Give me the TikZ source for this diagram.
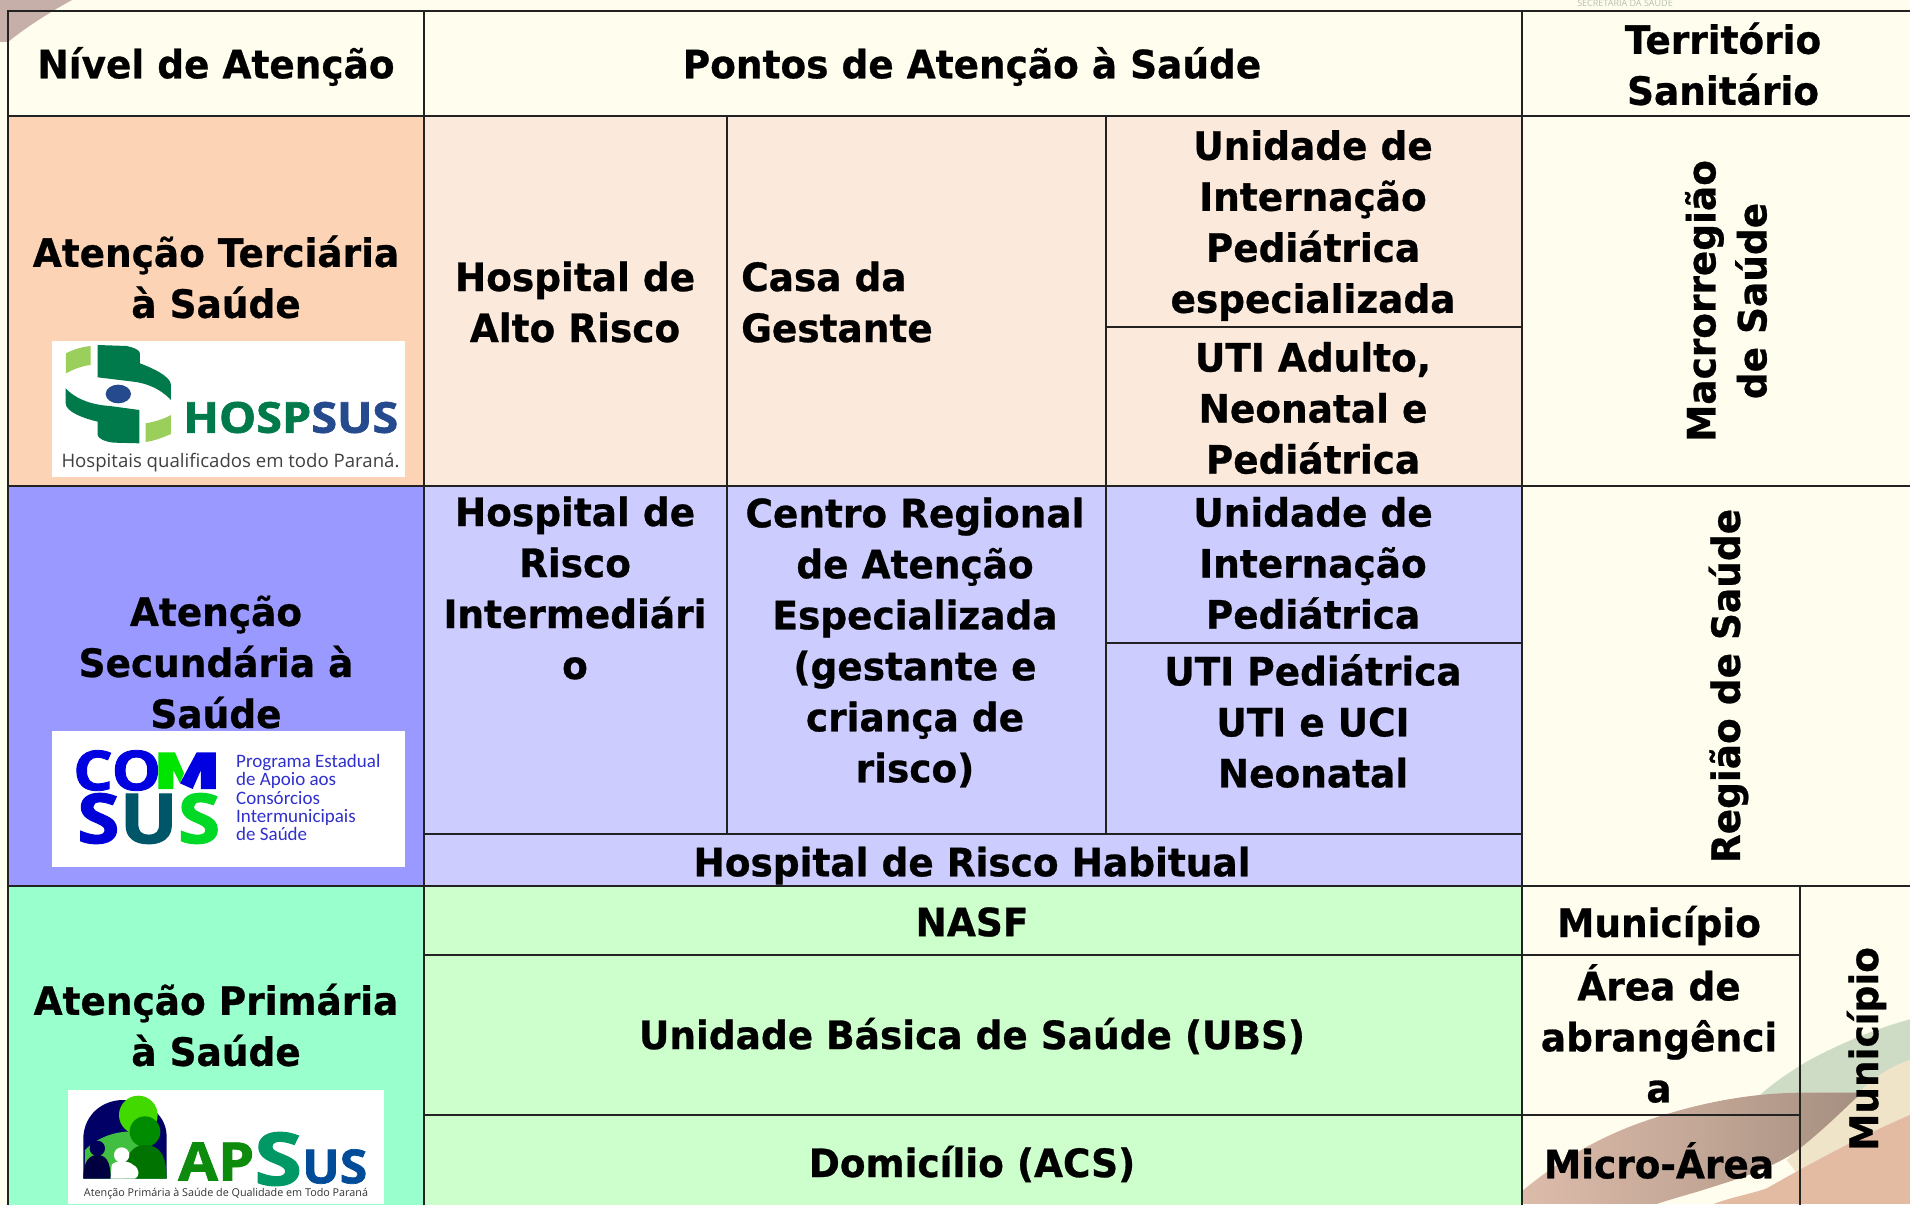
\documentclass[tikz,border=0pt]{standalone}
\usepackage{fontspec}
\setmainfont{Open Sans}
\newfontfamily\cellfont{DejaVu Sans}[FakeStretch=0.96,BoldFeatures={FakeBold=0.7}]
\newfontfamily\logofont{Open Sans}
\newfontfamily\logoheavy{Open Sans}[BoldFeatures={FakeBold=1.5}]
\newfontfamily\comfont{Carlito}
\definecolor{paper}{HTML}{FFFDEE}
\definecolor{terA}{HTML}{FCD3B4}
\definecolor{terB}{HTML}{FBE9DB}
\definecolor{secA}{HTML}{9999FF}
\definecolor{secB}{HTML}{CCCCFF}
\definecolor{priA}{HTML}{99FFCC}
\definecolor{priB}{HTML}{CCFFCC}
\definecolor{rule}{HTML}{222222}
\definecolor{hgreen}{HTML}{007A4B}
\definecolor{hlight}{HTML}{9BCF5B}
\definecolor{hblue}{HTML}{264A8E}
\definecolor{swTL}{HTML}{C6AFA8}
\definecolor{swGreen}{HTML}{CFDCC5}
\definecolor{swYellow}{HTML}{EFE3C8}
\definecolor{swSalmon}{HTML}{E3BBA3}
\definecolor{swBrownA}{HTML}{DDBBAA}
\definecolor{swBrownB}{HTML}{A58F80}
\definecolor{comtext}{HTML}{3030CC}
\tikzset{
  cellline/.style={draw=rule,line width=2.6pt},
  lab/.style={inner sep=0pt,align=center,font=\cellfont\bfseries\fontsize{39}{51}\selectfont,text=black},
  labv/.style={lab,rotate=90},
  logobox/.style={fill=white,draw=none},
}
\newcommand{\cellbox}[5]{\path[cellline,fill=#5] (#1,#2) rectangle (#3,#4);}
\begin{document}
\begin{tikzpicture}[x=1pt,y=-1pt]
\useasboundingbox (0,0) rectangle (1910,1204);
\fill[paper] (0,0) rectangle (1910,1204);
% background swooshes
\fill[swTL] (0,0) -- (72,0) .. controls (50,12) and (25,28) .. (8,42) -- (0,42) -- cycle;
\node[inner sep=0pt,font=\logofont\fontsize{9}{10}\selectfont,text=swGreen!70!gray] (sec) at (1625,2) {SECRETARIA DA SAÚDE};
\begin{scope}[shift={(1500,1000)},x=0.3333pt,y=-0.3333pt]
\clip (0,0) rectangle (1230,612);
\fill[swGreen] (780,285) .. controls (830,240) and (880,210) .. (920,185) .. controls (1020,130) and (1130,85) .. (1230,58) -- (1230,180) .. controls (1170,200) and (1110,240) .. (1075,285) -- cycle;
\fill[swYellow] (1075,280) .. controls (1110,240) and (1170,200) .. (1230,180) -- (1230,345) .. controls (1120,390) and (1000,460) .. (900,530) -- (860,480) -- cycle;
\fill[swSalmon] (640,612) .. controls (700,590) and (760,580) .. (800,565) .. controls (950,480) and (1100,400) .. (1230,345) -- (1230,612) -- cycle;
\shade[left color=swBrownA,right color=swBrownB,middle color=swBrownA!55!swBrownB] (70,612) -- (70,570) .. controls (180,480) and (300,410) .. (430,365) .. controls (560,320) and (720,280) .. (900,278) -- (1085,278) .. controls (1040,320) and (960,400) .. (880,460) .. controls (800,510) and (720,535) .. (640,560) .. controls (580,580) and (520,595) .. (470,612) -- cycle;
\end{scope}
% header row
\cellbox{8}{11}{424}{116}{paper,fill opacity=0}
\cellbox{424}{11}{1522}{116}{paper,fill opacity=0}
\cellbox{1522}{11}{1916}{116}{paper,fill opacity=0}
% tertiary
\cellbox{8}{116}{424}{486}{terA}
\cellbox{424}{116}{727}{486}{terB}
\cellbox{727}{116}{1106}{486}{terB}
\cellbox{1106}{116}{1522}{327}{terB}
\cellbox{1106}{327}{1522}{486}{terB}
\cellbox{1522}{116}{1916}{486}{paper,fill opacity=0}
% secondary
\cellbox{8}{486}{424}{886}{secA}
\cellbox{424}{486}{727}{834}{secB}
\cellbox{727}{486}{1106}{834}{secB}
\cellbox{1106}{486}{1522}{643}{secB}
\cellbox{1106}{643}{1522}{834}{secB}
\cellbox{424}{834}{1522}{886}{secB}
\cellbox{1522}{486}{1916}{886}{paper,fill opacity=0}
% primary
\cellbox{8}{886}{424}{1210}{priA}
\cellbox{424}{886}{1522}{955}{priB}
\cellbox{424}{955}{1522}{1115}{priB}
\cellbox{424}{1115}{1522}{1210}{priB}
\cellbox{1522}{886}{1800}{955}{paper,fill opacity=0}
\cellbox{1522}{955}{1800}{1115}{paper,fill opacity=0}
\cellbox{1522}{1115}{1800}{1210}{paper,fill opacity=0}
\cellbox{1800}{886}{1916}{1210}{paper,fill opacity=0}
% labels
\node[lab] (h1) at (216,66.5) {Nível de Atenção};
\node[lab] (h2) at (972,66.5) {Pontos de Atenção à Saúde};
\node[lab] (h3) at (1723,64) {Território\\Sanitário};
\node[lab] (t1) at (216,277) {Atenção Terciária\\à Saúde};
\node[lab] (t2) at (575,302) {Hospital de\\Alto Risco};
\node[lab,align=left,anchor=west] (t3) at (741,302) {Casa da\\Gestante};
\node[lab] (t4) at (1313,225.5) {Unidade de\\Internação\\Pediátrica\\especializada};
\node[lab] (t5) at (1313,408) {UTI Adulto,\\Neonatal e\\Pediátrica};
\node[labv] (t6) at (1726,301) {Macrorregião\\de Saúde};
\node[lab] (s1) at (216,662) {Atenção\\Secundária à\\Saúde};
\node[lab] (s2) at (575,588) {Hospital de\\Risco\\Intermediári\\o};
\node[lab] (s3) at (915,642.5) {Centro Regional\\de Atenção\\Especializada\\(gestante e\\criança de\\risco)};
\node[lab] (s4) at (1313,563) {Unidade de\\Internação\\Pediátrica};
\node[lab] (s5) at (1313,721) {UTI Pediátrica\\UTI e UCI\\Neonatal};
\node[lab] (s6) at (972,865.5) {Hospital de Risco Habitual};
\node[labv] (s7) at (1728.5,686) {Região de Saúde};
\node[lab] (p1) at (216,1025) {Atenção Primária\\à Saúde};
\node[lab] (p2) at (972,922) {NASF};
\node[lab] (p3) at (972,1036) {Unidade Básica de Saúde (UBS)};
\node[lab] (p4) at (972,1164) {Domicílio (ACS)};
\node[lab] (p5) at (1659,925.5) {Município};
\node[lab] (p6) at (1659,1033.5) {Área de\\abrangênci\\a};
\node[lab] (p7) at (1659,1160.5) {Micro-Área};
\node[labv] (p8) at (1866.5,1049) {Município};
% HOSPSUS logo
\fill[logobox] (52,341) rectangle (405,477);
\begin{scope}[shift={(0,320)},x=0.3333pt,y=-0.3333pt]
\fill[hlight] (198,100) .. controls (220,88) and (250,80) .. (272,78) -- (272,135) .. controls (245,138) and (220,148) .. (198,160) -- cycle;
\fill[hgreen] (293,75) -- (380,78) .. controls (400,82) and (420,90) .. (420,100) -- (420,130) .. controls (460,145) and (513,170) .. (513,195) -- (513,240) .. controls (480,205) and (440,190) .. (400,185) -- (293,172) -- cycle;
\fill[hblue] (355,222) ellipse [x radius=38,y radius=28];
\fill[hgreen] (197,205) .. controls (230,240) and (280,255) .. (330,258) -- (418,270) -- (418,370) -- (340,368) .. controls (315,365) and (293,355) .. (293,345) -- (293,305) .. controls (250,295) and (197,275) .. (197,250) -- cycle;
\fill[hlight] (437,310) .. controls (465,305) and (490,298) .. (513,285) -- (513,342) .. controls (490,352) and (465,362) .. (437,366) -- cycle;
\end{scope}
\node[inner sep=0pt,anchor=west] (hl1) at (183,417.5) {\resizebox{215pt}{31pt}{\logoheavy\bfseries\textcolor{hgreen}{HOSP}\textcolor{hblue}{SUS}}};
\node[inner sep=0pt,anchor=center] (hl2) at (230.5,463) {\resizebox{338pt}{!}{\logofont\fontsize{17}{20}\selectfont\textcolor{black!75}{Hospitais qualificados em todo Paraná.}}};
% COMSUS logo
\fill[logobox] (52,731) rectangle (405,867);
\node[inner sep=0pt,anchor=west] (cl1) at (73,770.5) {\resizebox{88pt}{40pt}{\logoheavy\bfseries\textcolor{blue!88!black}{CO}}};
\begin{scope}[shift={(0,720)},x=0.3333pt,y=-0.3333pt]
\fill[green!90!black] (475,97) -- (525,97) -- (552,160) -- (540,190) -- (520,150) -- (520,207) -- (475,207) -- cycle;
\fill[blue!88!black] (590,97) -- (648,97) -- (648,207) -- (603,207) -- (603,150) -- (578,207) -- (540,190) -- cycle;
\end{scope}
\node[inner sep=0pt,anchor=west] (cl2) at (77,818.5) {\resizebox{143pt}{50pt}{\logoheavy\bfseries\textcolor{blue!85!black}{S}\textcolor{blue!55!green!75!black}{U}\textcolor{green!85!blue}{S}}};
\node[inner sep=0pt,anchor=north west,align=left,font=\comfont\fontsize{19}{18.3}\selectfont,text=comtext] (cl3) at (236,754) {Programa Estadual\\de Apoio aos\\Consórcios\\Intermunicipais\\de Saúde};
% APSUS logo
\fill[logobox] (68,1090) rectangle (384,1204);
\begin{scope}[shift={(0,1070)},x=0.3333pt,y=-0.3333pt]
\fill[blue!40!black] (250,326) -- (250,200) .. controls (255,130) and (310,90) .. (370,90) .. controls (450,92) and (500,140) .. (500,200) -- (500,326) -- cycle;
\fill[green!50!gray] (255,240) .. controls (300,195) and (360,180) .. (420,185) -- (500,326) -- (255,326) -- cycle;
\fill[green!70!yellow!85!black] (415,135) circle [radius=58];
\fill[green!55!black] (435,185) circle [radius=46];
\fill[green!45!black] (370,326) .. controls (375,250) and (400,225) .. (435,225) .. controls (475,225) and (500,250) .. (500,326) -- cycle;
\fill[blue!35!black] (292,235) circle [radius=23];
\fill[blue!25!black] (250,326) .. controls (250,270) and (270,255) .. (292,255) .. controls (315,255) and (332,270) .. (332,326) -- cycle;
\fill[white] (365,255) circle [radius=23];
\fill[white] (332,326) -- (335,285) .. controls (345,270) and (385,270) .. (400,285) .. controls (420,295) and (420,320) .. (405,326) -- cycle;
\end{scope}
\node[inner sep=0pt,anchor=west] (al1) at (178,1161.5) {\resizebox{76pt}{38pt}{\logoheavy\bfseries\textcolor{green!55!black!90!gray}{AP}}};
\node[inner sep=0pt,anchor=west] (al2) at (254,1159) {\resizebox{48pt}{53pt}{\logoheavy\bfseries\textcolor{teal!80!green}{S}}};
\node[inner sep=0pt,anchor=west] (al3) at (302,1166.5) {\resizebox{65pt}{34pt}{\logoheavy\bfseries\textcolor{blue!50!cyan!60!black}{US}}};
\node[inner sep=0pt] (al4) at (226,1194) {\resizebox{284pt}{!}{\logofont\textcolor{black!80}{Atenção Primária à Saúde de Qualidade em Todo Paraná}}};
\end{tikzpicture}
\end{document}
